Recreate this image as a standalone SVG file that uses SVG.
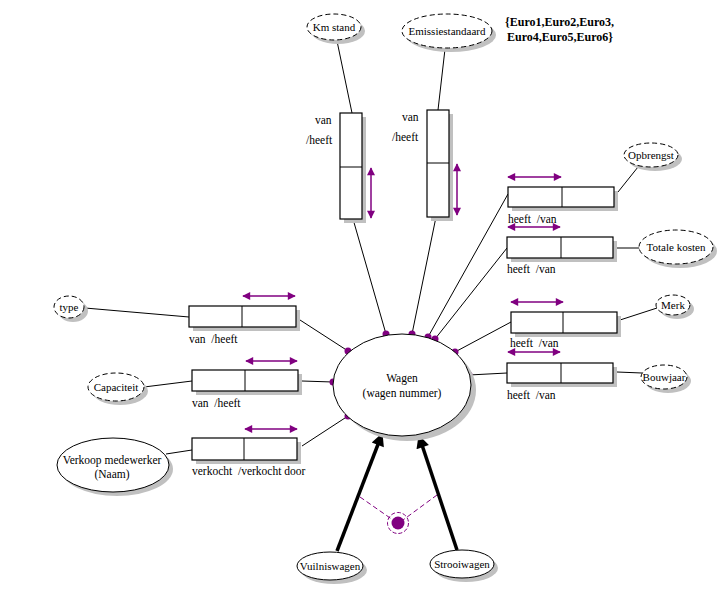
<svg xmlns="http://www.w3.org/2000/svg" width="725" height="589" viewBox="0 0 725 589">
<style>
text{font-family:"Liberation Serif","Times New Roman",serif;font-size:11.5px;fill:#000;white-space:pre}
.c{text-anchor:middle;font-size:11px}
.b{font-weight:bold;font-size:12px}
.sh{fill:#c0c0c0;stroke:none}
.bx{fill:#fff;stroke:#000;stroke-width:1.2}
.el{fill:#fff;stroke:#000;stroke-width:1}
.dash{stroke-dasharray:5,3}
.ln{stroke:#000;stroke-width:1;fill:none}
.pa{stroke:#800080;stroke-width:1.5;fill:none;marker-start:url(#ah);marker-end:url(#ah)}
.dot{fill:#800080}
.thick{stroke:#000;stroke-width:3.5;fill:none;marker-end:url(#big)}
.pd{stroke:#800080;stroke-width:1;stroke-dasharray:5,3;fill:none}
</style>
<defs>
<marker id="ah" viewBox="0 0 10 10" refX="9" refY="5" markerWidth="9" markerHeight="8" markerUnits="userSpaceOnUse" orient="auto-start-reverse">
<path d="M0,0 L10,5 L0,10 Z" fill="#800080"/>
</marker>
<marker id="big" viewBox="0 0 10 10" refX="9" refY="5" markerWidth="22" markerHeight="13" markerUnits="userSpaceOnUse" orient="auto">
<path d="M0,0 L10,5 L0,10 Z" fill="#000"/>
</marker>
</defs>

<g id="connectors">
<line class="ln" x1="337" y1="41" x2="352" y2="113"/>
<line class="ln" x1="445" y1="49" x2="438" y2="110"/>
<line class="ln" x1="353" y1="219" x2="386" y2="334"/>
<line class="ln" x1="436" y1="217" x2="412" y2="334"/>
<line class="ln" x1="508" y1="194" x2="428" y2="337"/>
<line class="ln" x1="507" y1="248" x2="435" y2="339"/>
<line class="ln" x1="511" y1="322" x2="455" y2="352"/>
<line class="ln" x1="507" y1="373" x2="469" y2="375"/>
<line class="ln" x1="618" y1="192" x2="638" y2="167"/>
<line class="ln" x1="617" y1="248" x2="640" y2="248"/>
<line class="ln" x1="620" y1="320" x2="657" y2="308"/>
<line class="ln" x1="617" y1="372" x2="642" y2="373"/>
<line class="ln" x1="85" y1="308" x2="189" y2="317"/>
<line class="ln" x1="144" y1="387" x2="192" y2="381"/>
<line class="ln" x1="166" y1="454" x2="192" y2="450"/>
<line class="ln" x1="300" y1="320" x2="348" y2="351"/>
<line class="ln" x1="302" y1="381" x2="333" y2="382"/>
<line class="ln" x1="302" y1="446" x2="348" y2="416"/>
<circle class="dot" cx="386" cy="334" r="3.5"/>
<circle class="dot" cx="412" cy="334" r="3.5"/>
<circle class="dot" cx="428" cy="337" r="3.5"/>
<circle class="dot" cx="435" cy="339" r="3.5"/>
<circle class="dot" cx="455" cy="352" r="3.5"/>
<circle class="dot" cx="469" cy="375" r="3.5"/>
<circle class="dot" cx="348" cy="351" r="3.5"/>
<circle class="dot" cx="333" cy="382" r="3.5"/>
<circle class="dot" cx="348" cy="416" r="3.5"/>
<line class="thick" x1="337" y1="551" x2="382" y2="434"/>
<line class="thick" x1="457" y1="550" x2="419" y2="436"/>
<line class="pd" x1="360" y1="497" x2="393" y2="520"/>
<line class="pd" x1="437" y1="495" x2="403" y2="520"/>
<circle cx="398" cy="523" r="10.5" fill="none" stroke="#800080" stroke-width="1" stroke-dasharray="4,2"/>
<circle class="dot" cx="398" cy="523" r="6.5"/>
</g>

<g id="wagen">
<ellipse class="sh" cx="407" cy="390" rx="69" ry="51"/>
<ellipse class="el" cx="402" cy="385" rx="69" ry="51"/>
<text class="c" x="402" y="382" style="font-size:11.5px">Wagen</text>
<text class="c" x="402" y="397" style="font-size:11.5px">(wagen nummer)</text>
</g>

<g id="fact-kmstand">
<rect class="sh" x="344" y="117" width="22" height="106"/>
<rect class="bx" x="340" y="113" width="22" height="106"/>
<line class="ln" x1="340" y1="167" x2="362" y2="167"/>
<line class="pa" x1="371" y1="168" x2="371" y2="218"/>
<text x="315" y="124">van</text>
<text x="306" y="144">/heeft</text>
</g>

<g id="fact-emissie">
<rect class="sh" x="431" y="114" width="22" height="107"/>
<rect class="bx" x="427" y="110" width="22" height="107"/>
<line class="ln" x1="427" y1="163" x2="449" y2="163"/>
<line class="pa" x1="457" y1="164" x2="457" y2="215"/>
<text x="402" y="121">van</text>
<text x="392" y="141">/heeft</text>
</g>

<g id="fact-opbrengst">
<rect class="sh" x="512" y="191" width="106" height="20"/>
<rect class="bx" x="508" y="187" width="106" height="20"/>
<line class="ln" x1="562" y1="187" x2="562" y2="207"/>
<line class="pa" x1="508" y1="177" x2="561" y2="177"/>
<text x="508" y="223">heeft  /van</text>
</g>

<g id="fact-totalekosten">
<rect class="sh" x="511" y="241" width="106" height="21"/>
<rect class="bx" x="507" y="237" width="106" height="21"/>
<line class="ln" x1="561" y1="237" x2="561" y2="258"/>
<line class="pa" x1="508" y1="227" x2="560" y2="227"/>
<text x="507" y="273">heeft  /van</text>
</g>

<g id="fact-merk">
<rect class="sh" x="515" y="316" width="106" height="21"/>
<rect class="bx" x="511" y="312" width="106" height="21"/>
<line class="ln" x1="563" y1="312" x2="563" y2="333"/>
<line class="pa" x1="511" y1="302" x2="563" y2="302"/>
<text x="510" y="347">heeft  /van</text>
</g>

<g id="fact-bouwjaar">
<rect class="sh" x="511" y="367" width="106" height="20"/>
<rect class="bx" x="507" y="363" width="106" height="20"/>
<line class="ln" x1="561" y1="363" x2="561" y2="383"/>
<line class="pa" x1="508" y1="352" x2="560" y2="352"/>
<text x="507" y="399">heeft  /van</text>
</g>

<g id="fact-type">
<rect class="sh" x="193" y="310" width="107" height="21"/>
<rect class="bx" x="189" y="306" width="107" height="21"/>
<line class="ln" x1="242" y1="306" x2="242" y2="327"/>
<line class="pa" x1="243" y1="296" x2="295" y2="296"/>
<text x="189" y="343">van  /heeft</text>
</g>

<g id="fact-capaciteit">
<rect class="sh" x="196" y="374" width="106" height="21"/>
<rect class="bx" x="192" y="370" width="106" height="21"/>
<line class="ln" x1="245" y1="370" x2="245" y2="391"/>
<line class="pa" x1="246" y1="361" x2="297" y2="361"/>
<text x="192" y="407">van  /heeft</text>
</g>

<g id="fact-verkoop">
<rect class="sh" x="196" y="442" width="105" height="22"/>
<rect class="bx" x="192" y="438" width="105" height="22"/>
<line class="ln" x1="244" y1="438" x2="244" y2="460"/>
<line class="pa" x1="245" y1="429" x2="297" y2="429"/>
<text x="192" y="475">verkocht  /verkocht door</text>
</g>

<g id="kmstand">
<ellipse class="sh" cx="338" cy="31" rx="27" ry="13"/>
<ellipse class="el dash" cx="334" cy="27" rx="27" ry="13"/>
<text class="c" x="334" y="31">Km stand</text>
</g>

<g id="emissiestandaard">
<ellipse class="sh" cx="451" cy="35" rx="45" ry="17"/>
<ellipse class="el dash" cx="447" cy="31" rx="45" ry="17"/>
<text class="c" x="447" y="35">Emissiestandaard</text>
</g>

<g id="euro-values">
<text class="b" x="505" y="26">{Euro1,Euro2,Euro3,</text>
<text class="b" x="507" y="41">Euro4,Euro5,Euro6}</text>
</g>

<g id="opbrengst">
<ellipse class="sh" cx="655" cy="159" rx="27" ry="12"/>
<ellipse class="el dash" cx="651" cy="155" rx="27" ry="12"/>
<text class="c" x="651" y="159">Opbrengst</text>
</g>

<g id="totalekosten">
<ellipse class="sh" cx="680" cy="251" rx="37" ry="17"/>
<ellipse class="el dash" cx="676" cy="247" rx="37" ry="17"/>
<text class="c" x="676" y="251">Totale kosten</text>
</g>

<g id="merk">
<ellipse class="sh" cx="677" cy="309" rx="17" ry="10"/>
<ellipse class="el dash" cx="673" cy="305" rx="17" ry="10"/>
<text class="c" x="673" y="309">Merk</text>
</g>

<g id="bouwjaar">
<ellipse class="sh" cx="668" cy="381" rx="23" ry="12"/>
<ellipse class="el dash" cx="664" cy="377" rx="23" ry="12"/>
<text class="c" x="664" y="381">Bouwjaar</text>
</g>

<g id="type">
<ellipse class="sh" cx="73" cy="311" rx="15" ry="11"/>
<ellipse class="el dash" cx="69" cy="307" rx="15" ry="11"/>
<text class="c" x="69" y="311">type</text>
</g>

<g id="capaciteit">
<ellipse class="sh" cx="120" cy="391" rx="28" ry="14"/>
<ellipse class="el dash" cx="116" cy="387" rx="28" ry="14"/>
<text class="c" x="116" y="391">Capaciteit</text>
</g>

<g id="verkoopmedewerker">
<ellipse class="sh" cx="117" cy="469" rx="56" ry="27"/>
<ellipse class="el" cx="113" cy="465" rx="56" ry="27"/>
<text class="c" x="112" y="464" style="font-size:11.5px">Verkoop medewerker</text>
<text class="c" x="112" y="478" style="font-size:11.5px">(Naam)</text>
</g>

<g id="vuilniswagen">
<ellipse class="sh" cx="334" cy="570" rx="33" ry="14"/>
<ellipse class="el" cx="330" cy="566" rx="33" ry="14"/>
<text class="c" x="330" y="570">Vuilniswagen</text>
</g>

<g id="strooiwagen">
<ellipse class="sh" cx="466" cy="568" rx="32" ry="14"/>
<ellipse class="el" cx="462" cy="564" rx="32" ry="14"/>
<text class="c" x="462" y="568">Strooiwagen</text>
</g>
</svg>
